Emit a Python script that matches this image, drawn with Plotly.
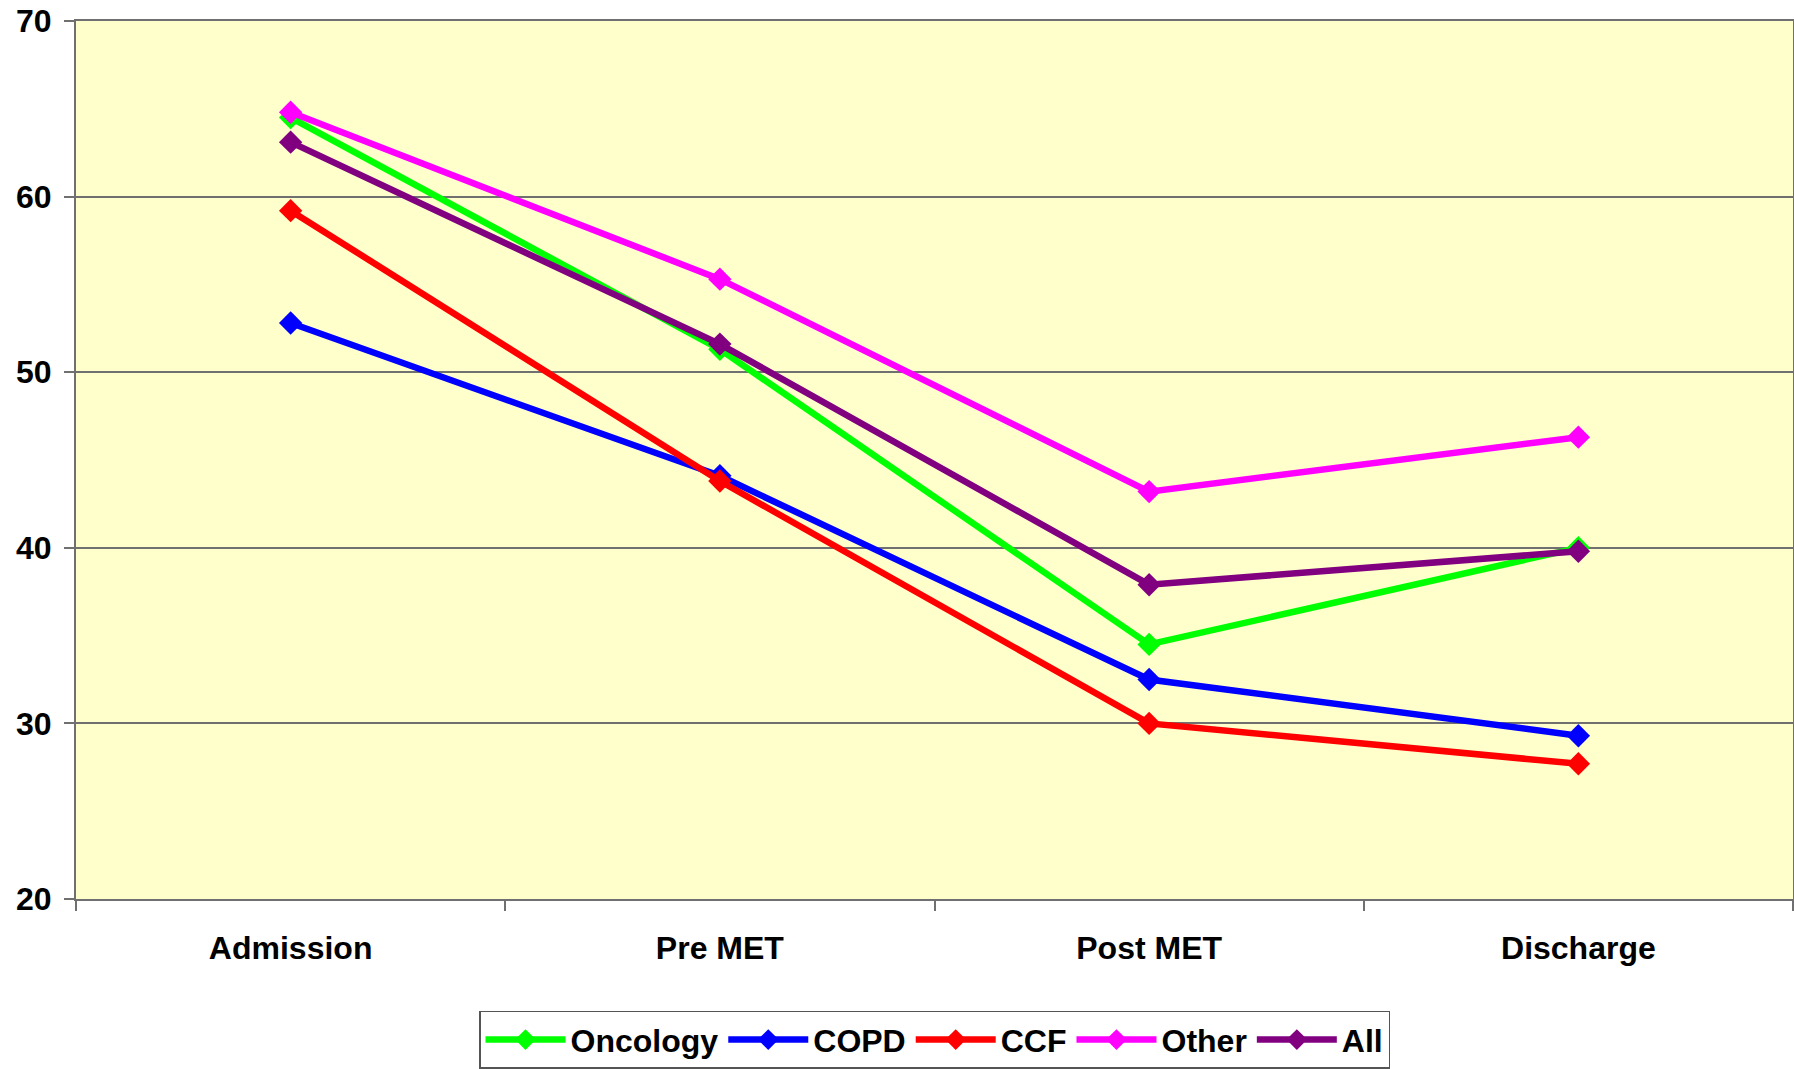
import plotly.graph_objects as go

categories = ["Admission", "Pre MET", "Post MET", "Discharge"]
oncology = [64.5, 51.3, 34.5, 40.0]
copd = [52.8, 44.1, 32.5, 29.3]
ccf = [59.2, 43.8, 30.0, 27.7]
other = [64.8, 55.3, 43.2, 46.3]
all_ = [63.1, 51.6, 37.9, 39.8]

series = [
    ("Oncology", oncology, "#00FF00"),
    ("COPD", copd, "#0000FF"),
    ("CCF", ccf, "#FF0000"),
    ("Other", other, "#FF00FF"),
    ("All", all_, "#800080"),
]

font_family = "Liberation Sans, Arial, sans-serif"

fig = go.Figure()
for name, vals, color in series:
    fig.add_trace(go.Scatter(
        x=categories, y=vals, name=name, mode="lines+markers",
        line=dict(color=color, width=6.5),
        marker=dict(symbol="diamond", size=18, color=color),
    ))

fig.update_layout(
    width=1794, height=1069,
    margin=dict(l=76, r=1, t=21, b=169),
    paper_bgcolor="white",
    plot_bgcolor="#FFFFCC",
    font=dict(family=font_family, size=32, color="black", weight="bold"),
    showlegend=True,
    legend=dict(
        orientation="h", x=0.5, xanchor="center", y=-0.126, yanchor="top",
        bordercolor="#555555", borderwidth=1.5, bgcolor="white",
        font=dict(family=font_family, size=32, color="black", weight="bold"),
        itemwidth=80, tracegroupgap=0,
    ),
    xaxis=dict(
        type="category", range=[-0.5, 3.5], automargin=False,
        showgrid=False, showline=True, linecolor="#707070", linewidth=2,
        mirror=True, ticks="outside", tickson="boundaries", ticklen=10,
        tickcolor="#707070", tickwidth=1.5,
        ticklabelstandoff=20,
    ),
    yaxis=dict(
        range=[20, 70], dtick=10, tick0=20, automargin=False,
        showgrid=True, gridcolor="#707070", gridwidth=1.5,
        showline=True, linecolor="#707070", linewidth=2, mirror=True,
        ticks="outside", ticklen=10, tickcolor="#707070", tickwidth=1.5,
        zeroline=False, ticklabelstandoff=6,
    ),
)

fig.write_html(
    "out.html",
    config={"displayModeBar": False},
    post_script="document.body.style.margin='0';document.body.style.overflow='hidden';",
)
